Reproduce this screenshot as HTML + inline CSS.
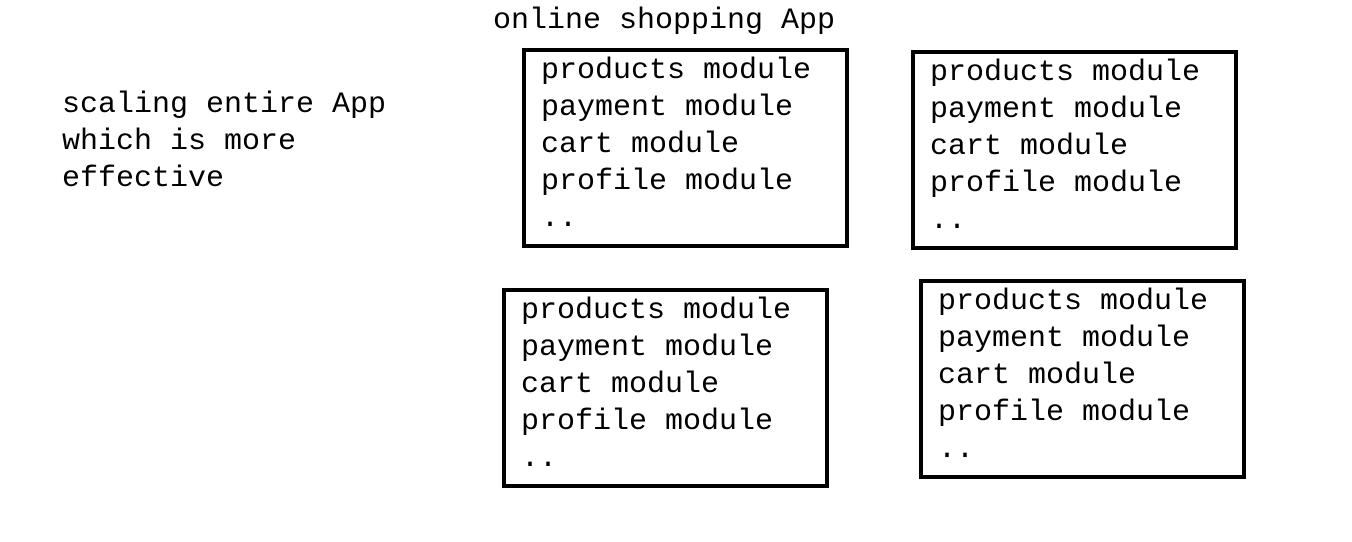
<!DOCTYPE html>
<html><head><meta charset="utf-8"><style>
body{margin:0;width:1352px;height:542px;background:#fff;position:relative;overflow:hidden;font-family:"Liberation Mono",monospace;color:#000}
.t{position:absolute;font-size:30px;line-height:37px;white-space:pre}
.b{position:absolute;box-sizing:border-box;width:327px;height:200px;border:4px solid #000;font-size:30px;line-height:37px;padding-left:15px;padding-top:1px;white-space:pre}
</style></head><body>
<div class="t" style="left:493px;top:3px">online shopping App</div>
<div class="t" style="left:62px;top:87px">scaling entire App
which is more
effective</div>
<div class="b" style="left:522px;top:48px">products module
payment module
cart module
profile module
..</div>
<div class="b" style="left:911px;top:50px">products module
payment module
cart module
profile module
..</div>
<div class="b" style="left:502px;top:288px">products module
payment module
cart module
profile module
..</div>
<div class="b" style="left:919px;top:279px">products module
payment module
cart module
profile module
..</div>
</body></html>
